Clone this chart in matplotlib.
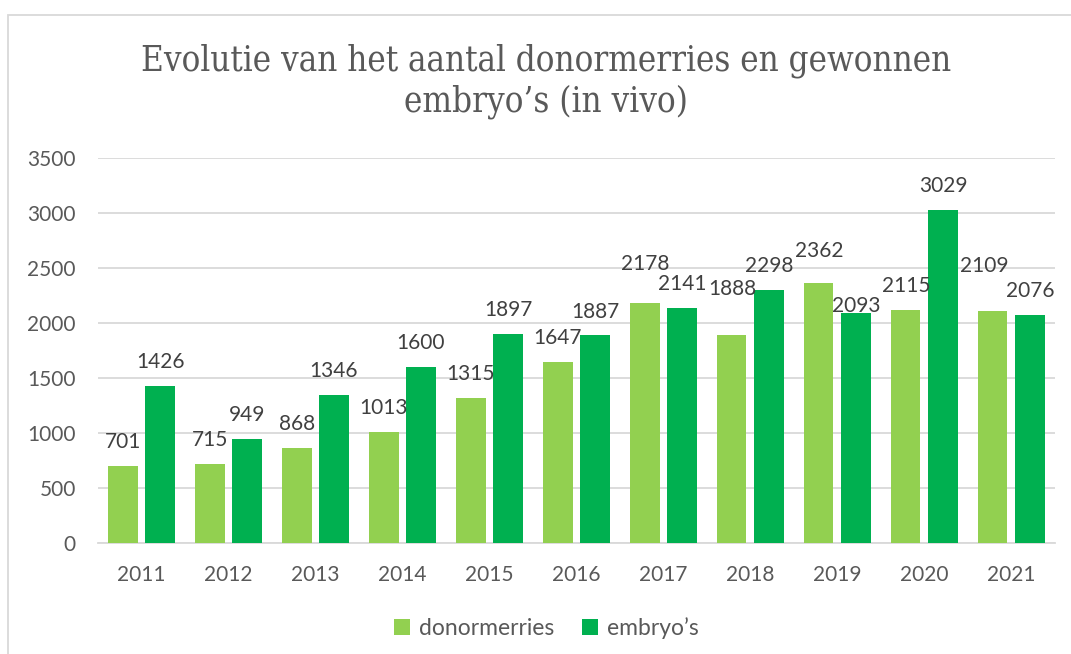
import numpy as np
import matplotlib
matplotlib.use('Agg')
import matplotlib.pyplot as plt
from matplotlib.patches import Rectangle

# data
years = ['2011', '2012', '2013', '2014', '2015', '2016', '2017', '2018', '2019', '2020', '2021']
donormerries = [701, 715, 868, 1013, 1315, 1647, 2178, 1888, 2362, 2115, 2109]
embryos = [1426, 949, 1346, 1600, 1897, 1887, 2141, 2298, 2093, 3029, 2076]

# extra label shifts (points) where labels were moved by hand in the original
lift_d = [0, 0, 0, 0, 0, 0, 11, 16, 6, 0, 15]
lift_e = [0, 0, 0, 0, 0, 0, 0, 0, -12, 0, 0]
side_d = [0, 0, 0, 0, 0, 0, 0, 0, 0, 0, -6]

light = '#92D050'
dark = '#00B050'
txt = '#595959'
font = 'Lato'

fig = plt.figure(figsize=(10.71, 6.54), dpi=100)
ax = fig.add_axes([0.0915, 0.1697, 0.8935, 0.5887])

x = np.arange(len(years))
w = 0.335
off = 0.213
b1 = ax.bar(x - off, donormerries, w, color=light, label='donormerries', zorder=3)
b2 = ax.bar(x + off, embryos, w, color=dark, label="embryo\u2019s", zorder=3)

# value labels above the bars
for bars, vals, lift, side in [(b1, donormerries, lift_d, side_d), (b2, embryos, lift_e, [0] * 11)]:
    for r, v, l, s in zip(bars, vals, lift, side):
        ax.annotate(str(v), (r.get_x() + r.get_width() / 2, v), xytext=(s, 10 + l),
                    textcoords='offset points', ha='center', va='bottom',
                    fontsize=15, color='#404040', family=font)

ax.set_xlim(-0.5, len(years) - 0.5)
ax.set_ylim(0, 3500)
ax.set_yticks(np.arange(0, 3501, 500))
ax.set_xticks(x)
ax.set_xticklabels(years)
ax.yaxis.grid(True, color='#D9D9D9', linewidth=1.3, zorder=0)
ax.set_axisbelow(True)
for s in ['top', 'right', 'left']:
    ax.spines[s].set_visible(False)
ax.spines['bottom'].set_color('#D9D9D9')
ax.spines['bottom'].set_linewidth(1.3)
ax.tick_params(length=0, labelsize=15, labelcolor=txt)
ax.tick_params(axis='y', pad=16)
ax.tick_params(axis='x', pad=16)
for lab in ax.get_xticklabels() + ax.get_yticklabels():
    lab.set_family(font)

fig.text(0.51, 0.876, "Evolutie van het aantal donormerries en gewonnen\nembryo\u2019s (in vivo)",
         ha='center', va='center', fontsize=25, color=txt, family='DejaVu Serif',
         fontstretch='condensed', linespacing=1.25)

leg = fig.legend(loc='center', bbox_to_anchor=(0.51, 0.04), ncol=2, frameon=False,
                 prop={'family': font, 'size': 16.5}, handlelength=0.7,
                 handleheight=0.7, handletextpad=0.4, columnspacing=1.2)
for t in leg.get_texts():
    t.set_color(txt)

# light frame round the chart
fig.patches.append(Rectangle((8 / 1071, -0.1), 1.2, 1.1 - 15 / 654, transform=fig.transFigure,
                             fill=False, edgecolor='#D9D9D9', linewidth=1.3))

fig.savefig('out.png', dpi=100)
